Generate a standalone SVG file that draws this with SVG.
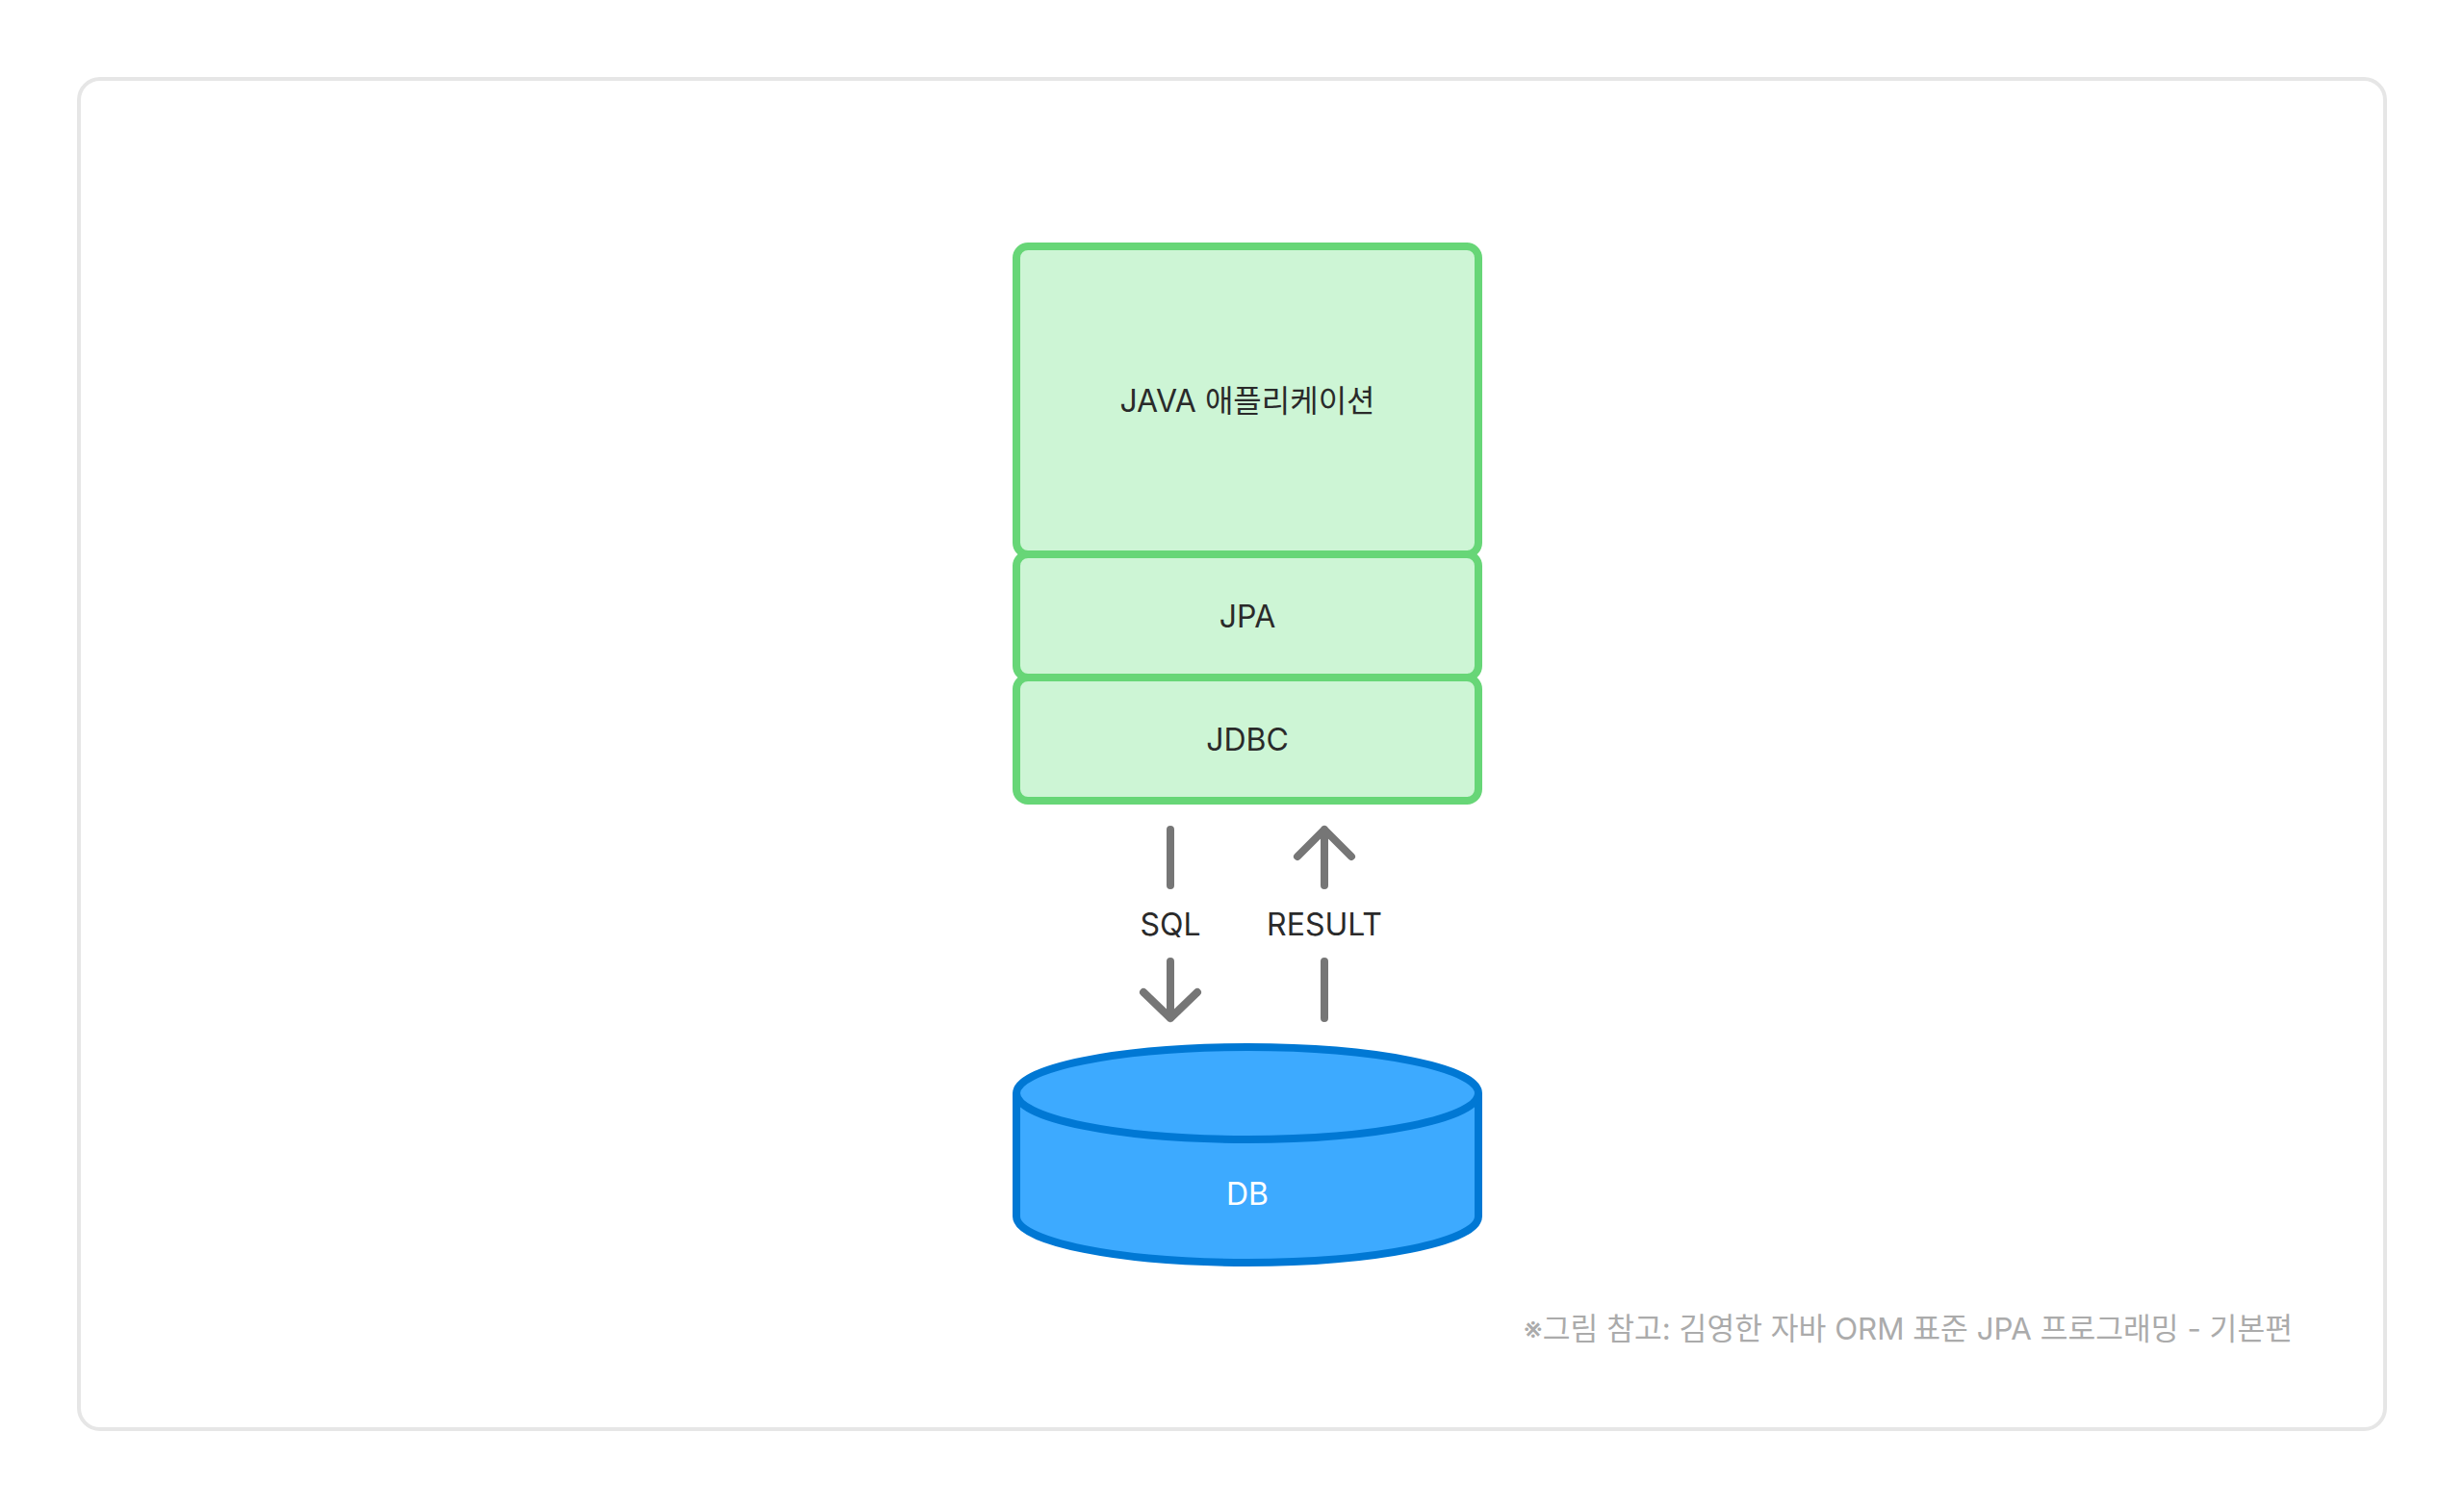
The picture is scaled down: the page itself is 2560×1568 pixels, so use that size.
<svg xmlns="http://www.w3.org/2000/svg" width="2560" height="1568" viewBox="0 0 2560 1568">
<style>
.frame{fill:#ffffff;stroke:#e6e6e6;stroke-width:4}
.box{fill:#cdf5d5;stroke:#67d677;stroke-width:8}
.lbl{font-family:Inter,"Noto Sans CJK KR",sans-serif;font-size:32px;fill:#2a2a2a;text-anchor:middle}
.arr{fill:none;stroke:#767676;stroke-width:8;stroke-linecap:round;stroke-linejoin:round}
.db{fill:#3daaff;stroke:#0078d4;stroke-width:8}
.note{font-family:Inter,"Noto Sans CJK KR",sans-serif;font-size:31.3px;fill:#ababab;text-anchor:end}
</style>
<rect width="2560" height="1568" fill="#ffffff"/>
<rect class="frame" x="82" y="82" width="2396" height="1403" rx="22"/>
<g id="java-app">
<rect class="box" x="1056" y="256" width="480" height="320" rx="12"/>
<text class="lbl" x="1296" y="428">JAVA 애플리케이션</text>
</g>
<g id="jpa">
<rect class="box" x="1056" y="576" width="480" height="128" rx="12"/>
<text class="lbl" x="1296" y="652">JPA</text>
</g>
<g id="jdbc">
<rect class="box" x="1056" y="704" width="480" height="128" rx="12"/>
<text class="lbl" x="1296" y="780">JDBC</text>
</g>
<g id="connectors">
<path class="arr" d="M1216 862V920M1216 999V1058M1188 1031L1216 1058L1244 1031"/>
<text class="lbl" x="1216" y="972">SQL</text>
<path class="arr" d="M1376 862V920M1376 999V1058M1348 890L1376 862L1404 890"/>
<text class="lbl" x="1376" y="972">RESULT</text>
</g>
<g id="db">
<path class="db" d="M1056 1136V1264A240 48 0 0 0 1536 1264V1136"/>
<ellipse class="db" cx="1296" cy="1136" rx="240" ry="48"/>
<text class="lbl" x="1296" y="1252" style="fill:#ffffff">DB</text>
</g>
<text class="note" x="2382" y="1392">※그림 참고: 김영한 자바 ORM 표준 JPA 프로그래밍 - 기본편</text>
</svg>
